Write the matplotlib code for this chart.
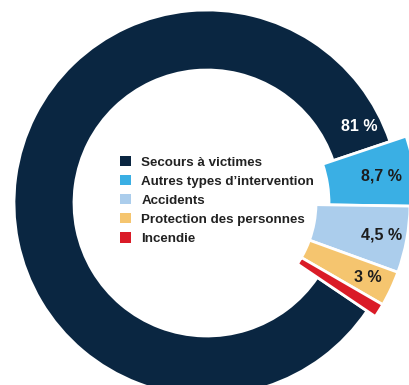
import matplotlib
matplotlib.use('Agg')
import matplotlib.pyplot as plt
from matplotlib.patches import Patch
import numpy as np

categories = ['Secours à victimes', 'Autres types d’intervention', 'Accidents',
              'Protection des personnes', 'Incendie']
# slice sizes as drawn in the ring (percent of the full turn)
share = [85.4, 5.4, 5.3, 2.8, 1.1]
pct_labels = ['81 %', '8,7 %', '4,5 %', '3 %', '']
colors = ['#0a2641', '#3aafe4', '#abcdec', '#f5c56f', '#da1b27']

plt.rcParams['font.family'] = ['Liberation Sans', 'DejaVu Sans']

fig = plt.figure(figsize=(4.10, 3.85), dpi=100)
ax = fig.add_axes([0, 0, 1, 1])

wedges, _ = ax.pie(share, colors=colors, startangle=-34, counterclock=False,
                   radius=203,
                   wedgeprops=dict(width=94, edgecolor='white', linewidth=2))

# main ring is thinner, the small slices stick out of it
wedges[0].set_radius(193)
wedges[0].set_width(60)
wedges[1].set_radius(210)
wedges[1].set_width(88)

for i, w in enumerate(wedges):
    if not pct_labels[i]:
        continue
    if i == 0:
        ang, r, col = w.theta1 + 8, 170, 'white'
    else:
        ang, r, col = (w.theta1 + w.theta2) / 2, 177, '#1d1d1d'
    a = np.deg2rad(ang)
    ax.text(r * np.cos(a), r * np.sin(a), pct_labels[i], ha='center', va='center',
            color=col, fontsize=11.5, fontweight='bold')

handles = [Patch(facecolor=c) for c in colors]
ax.legend(handles, categories, loc='center left', bbox_to_anchor=(-87, 2.5),
          bbox_transform=ax.transData, frameon=False, borderpad=0,
          borderaxespad=0, handlelength=0.8, handleheight=0.8,
          handletextpad=0.8, labelspacing=0.48,
          prop=dict(weight='bold', size=9.6), labelcolor='#222222')

ax.set_xlim(-207, 203)
ax.set_ylim(-182, 203)
ax.set_aspect('equal')
ax.axis('off')

fig.savefig('out.png', dpi=100)
